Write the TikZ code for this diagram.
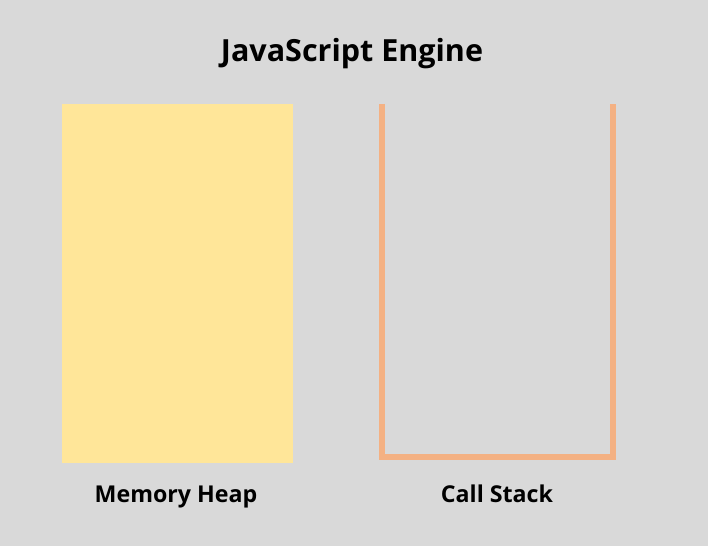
\documentclass[tikz,border=0pt]{standalone}
\usepackage{fontspec}
\setmainfont{Open Sans}
\definecolor{bg}{HTML}{D9D9D9}
\definecolor{heap}{HTML}{FFE699}
\definecolor{stackc}{HTML}{F4B183}
\begin{document}
\begin{tikzpicture}[x=1pt,y=1pt,
  lbl/.style={font=\bfseries\fontsize{23.2}{27}\selectfont, text=black, inner sep=0pt, anchor=base},
  ttl/.style={font=\bfseries\fontsize{30.5}{36}\selectfont, text=black, inner sep=0pt, anchor=base}]
\fill[bg] (0,0) rectangle (708,546);
\useasboundingbox (0,0) rectangle (708,546);
\node[ttl] (title) at (352,484) {JavaScript Engine};
\node[fill=heap, minimum width=231pt, minimum height=359pt, inner sep=0pt, anchor=north west] (heap) at (62,442) {};
\coordinate (stl) at (382,442);
\coordinate (sbl) at (382,89);
\coordinate (sbr) at (613,89);
\coordinate (str) at (613,442);
\draw[stackc, line width=6pt] (stl) -- (sbl) -- (sbr) -- (str);
\node[lbl] (heaplbl) at (176,44) {Memory Heap};
\node[lbl] (stacklbl) at (497,44) {Call Stack};
\end{tikzpicture}
\end{document}
